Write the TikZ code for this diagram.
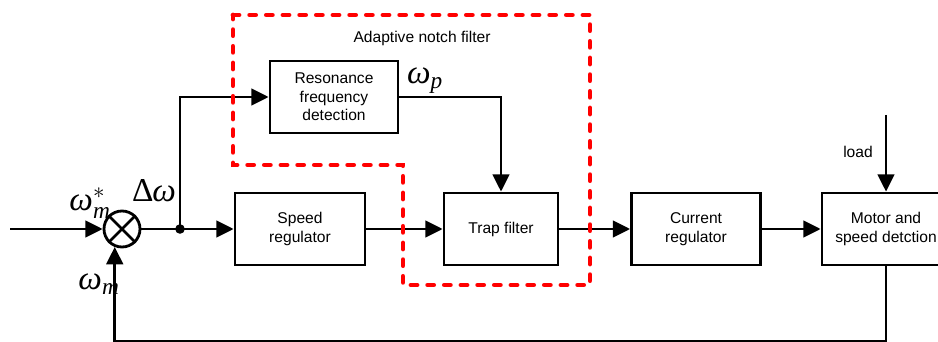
\documentclass[tikz,border=0pt]{standalone}
\usepackage{amsmath}
\usepackage{fontspec}
\setmainfont{Liberation Sans}
\newfontfamily\grk{Liberation Serif}
\usetikzlibrary{arrows.meta}

\newcommand{\wsym}{\text{\grk\itshape ω}}
\newcommand{\isub}[1]{\text{\grk\itshape #1}}

\begin{document}
\begin{tikzpicture}[x=0.75pt, y=-0.75pt,
		block/.style={draw, line width=2.1pt, minimum height=54pt, align=center, font=\fontsize{11.7}{14}\selectfont},
		sig/.style={line width=2.1pt, -{Triangle[length=13pt,width=12.5pt]}},
		lbl/.style={font=\fontsize{25}{30}\selectfont}]
	\useasboundingbox (0,0) rectangle (938,342);
	% Define coordinates
	\coordinate (In) at (10,229);
	\coordinate (Ld) at (886,115);
	
	% Blocks
	\node[draw, circle, line width=2.1pt, minimum size=27pt, inner sep=0pt] (sum) at (122,229) {};
	\draw[line width=2.1pt] (sum.45) -- (sum.225) (sum.135) -- (sum.315);
	\node[block, minimum width=97.5pt] (speed) at (300,229) {Speed\\regulator};
	\node[block, minimum width=85.5pt] (trap) at (501,229) {Trap filter};
	\node[block, minimum width=96pt] (reso) at (334,97) {Resonance\\frequency\\detection};
	\node[block, minimum width=96.75pt] (current) at (696,229) {Current\\regulator};
	\node[block, minimum width=96pt] (motor) at (886,229) {Motor and\\speed detction};
	\fill (180,229) circle (3.6pt) coordinate (jn);
	
	% Signals
	\draw[sig] (In) -- (sum.west);
	\draw[sig] (sum.east) -- (speed.west);
	\draw[sig] (jn) |- (reso.west);
	\draw[sig] (reso.east) -| (trap.north);
	\draw[sig] (speed.east) -- (trap.west);
	\draw[sig] (trap.east) -- (current.west);
	\draw[sig] (current.east) -- (motor.west);
	\draw[sig] (Ld) -- (motor.north);
	\draw[sig] (motor.south) -- ++(0,75) -| (sum.248);
	
	% Labels
	\node[lbl] (wref) at (90,203) {$\wsym_{\isub{m}}^{*}$};
	\node[lbl] (dw) at (154,191) {{\grk Δ}\kern-1pt{\grk\itshape ω}};
	\node[lbl] (wm) at (99,284) {$\wsym_{\isub{m}}$};
	\node[lbl] (wp) at (425,81) {$\wsym_{\isub{p}}$};
	\node[font=\fontsize{11.7}{14}\selectfont] (load) at (858,152) {load};
	
	% Adaptive notch filter
	\draw[red, line width=3.6pt, line cap=round, dash pattern=on 4.5pt off 8pt]
		(233,15) -- (590,15) -- (590,285) -- (403,285) -- (403,165) -- (233,165) -- cycle;
	\node[font=\fontsize{11.7}{14}\selectfont] (anf) at (422,38) {Adaptive notch filter};
\end{tikzpicture}
\end{document}
